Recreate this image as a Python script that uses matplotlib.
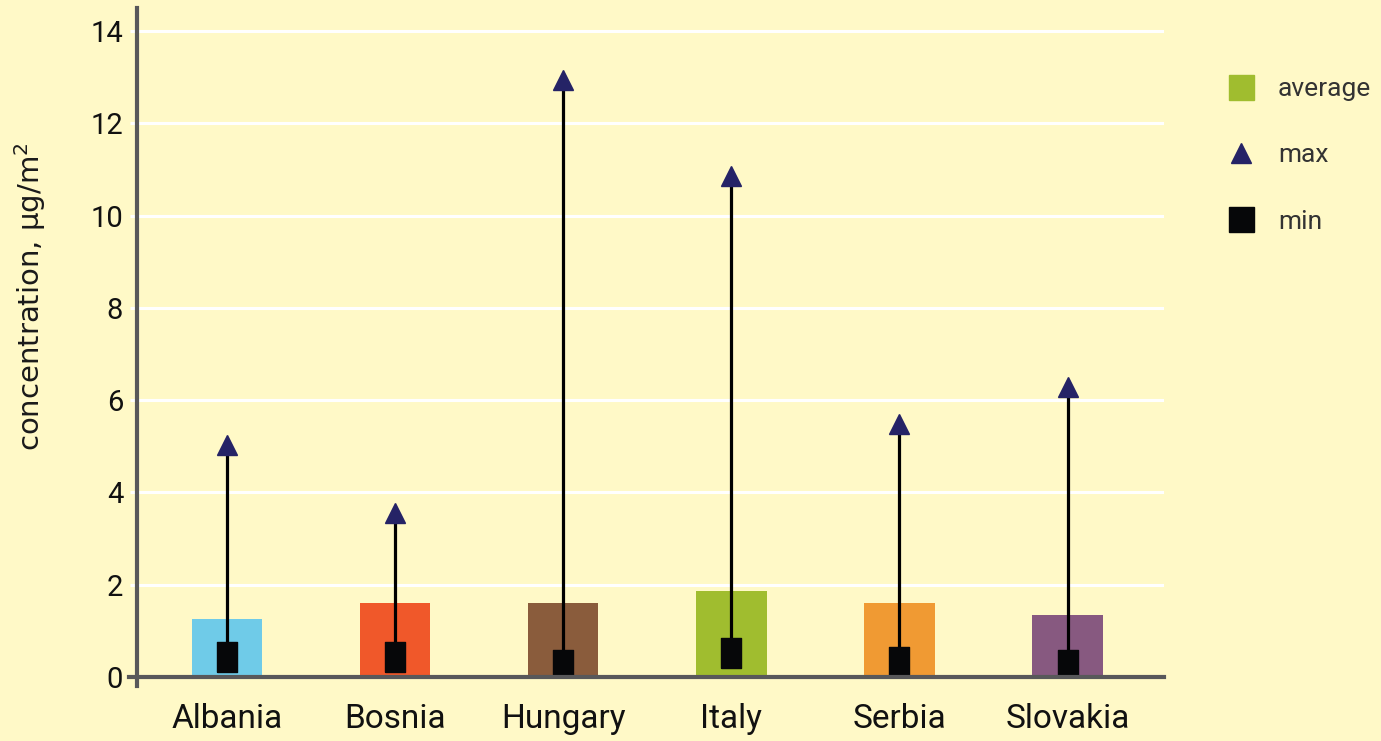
import matplotlib.pyplot as plt
from matplotlib.lines import Line2D

# data
countries = ['Albania', 'Bosnia', 'Hungary', 'Italy', 'Serbia', 'Slovakia']
average = [1.26, 1.6, 1.6, 1.87, 1.6, 1.34]
max_vals = [5.03, 3.55, 12.95, 10.87, 5.49, 6.28]
min_vals = [0.43, 0.43, 0.25, 0.52, 0.32, 0.25]
bar_colors = ['#6FCBE8', '#F0582A', '#8A5C3C', '#A0BD2F', '#F09A33', '#875980']
y_ticks = [0, 2, 4, 6, 8, 10, 12, 14]

bg = '#FFF9C7'
spine_col = '#58585A'
navy = '#252366'
font = ['Roboto', 'DejaVu Sans']

fig = plt.figure(figsize=(13.81, 7.41), dpi=100, facecolor=bg)
ax = fig.add_axes([0.0992, 0.0864, 0.7437, 0.9026])
ax.set_facecolor(bg)

x = list(range(len(countries)))
ax.bar(x, average, width=0.42, color=bar_colors, zorder=2)
ax.vlines(x, min_vals, max_vals, color='black', linewidth=2.3, zorder=3)
ax.plot(x, max_vals, linestyle='none', marker='^', markersize=15,
        color=navy, zorder=4)
rect = [(-0.69, -1), (0.69, -1), (0.69, 1), (-0.69, 1), (-0.69, -1)]
ax.plot(x, min_vals, linestyle='none', marker=rect, markersize=21,
        color='#060709', zorder=4)

ax.set_xlim(-0.535, 5.574)
ax.set_ylim(0, 14.5)
ax.set_yticks(y_ticks)
ax.set_xticks(x)
ax.set_xticklabels(countries, family=font, fontsize=24, color='#111111')
ax.set_yticklabels([str(t) for t in y_ticks], family=font, fontsize=21,
                   color='#111111')
ax.tick_params(axis='x', length=0, pad=19)
ax.tick_params(axis='y', length=5, width=2.2, color='white', pad=5)

ax.yaxis.grid(True, color='white', linewidth=2.2, zorder=0)
ax.set_axisbelow(True)

for s in ['top', 'right']:
    ax.spines[s].set_visible(False)
for s in ['left', 'bottom']:
    ax.spines[s].set_color(spine_col)
    ax.spines[s].set_linewidth(3)
    ax.spines[s].set_zorder(5)
ax.spines['left'].set_bounds(-0.2, 14.5)
ax.spines['bottom'].set_bounds(-0.58, 5.574)

fig.text(0.0217, 0.599, 'concentration, μg/m$^2$', rotation=90,
         ha='center', va='center', fontsize=21, color='#1a1a1a',
         family=['DejaVu Sans'])

handles = [
    Line2D([], [], linestyle='none', marker='s', markersize=18,
           color='#A0BD2F', label='average'),
    Line2D([], [], linestyle='none', marker='^', markersize=15,
           color=navy, label='max'),
    Line2D([], [], linestyle='none', marker='s', markersize=18,
           color='#060709', label='min'),
]
fig.legend(handles=handles, loc='upper left', bbox_to_anchor=(0.870, 0.928),
           frameon=False, prop={'family': font, 'size': 19},
           labelspacing=1.6, handletextpad=0.8, handlelength=1.2,
           labelcolor='#333333')

fig.savefig('out.png', dpi=100, facecolor=bg)
